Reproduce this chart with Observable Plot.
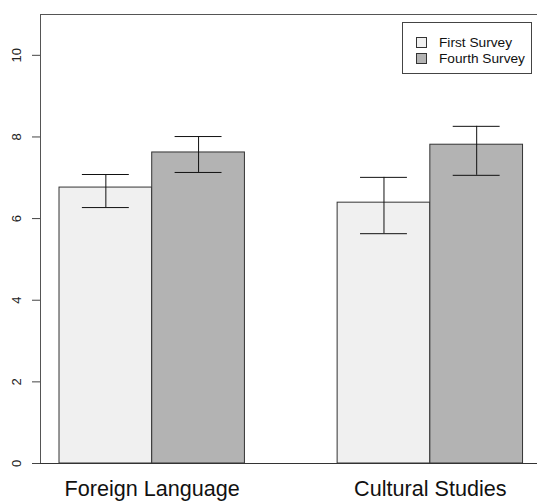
<!DOCTYPE html>
<html>
<head>
<meta charset="utf-8">
<script src="https://cdn.jsdelivr.net/npm/d3@7"></script>
<script src="https://cdn.jsdelivr.net/npm/@observablehq/plot@0.6"></script>
<style>
  html, body { margin: 0; padding: 0; background: #fff; overflow: hidden; }
  #wrap { position: relative; width: 537px; height: 501px; font-family: "Liberation Sans", Arial, sans-serif; }
  #legend { position: absolute; left: 402px; top: 22px; width: 130px; height: 52px; box-sizing: border-box;
            border: 1px solid #444; background: #fff; font-size: 13.7px; color: #111; }
  .item { position: absolute; left: 13px; height: 16px; line-height: 16px; white-space: nowrap; }
  .sw { display: inline-block; width: 9px; height: 9px; border: 1px solid #333; vertical-align: middle; margin-right: 12px; position: relative; top: -1px; }
</style>
</head>
<body>
<div id="wrap"></div>
<script>
const categories = ["Foreign Language", "Cultural Studies"];
const series = ["First Survey", "Fourth Survey"];
const colors = ["#f0f0f0", "#b3b3b3"];
const firstMean  = [6.76, 6.39];
const firstLow   = [6.27, 5.63];
const firstHigh  = [7.08, 7.01];
const fourthMean = [7.62, 7.81];
const fourthLow  = [7.13, 7.06];
const fourthHigh = [8.01, 8.26];
const yTicks = [0, 2, 4, 6, 8, 10];

const means = [firstMean, fourthMean];
const lows = [firstLow, fourthLow];
const highs = [firstHigh, fourthHigh];

const data = [];
categories.forEach((c, gi) => {
  series.forEach((s, si) => {
    const pos = gi * 3 + si + 1;
    data.push({category: c, series: s, x1: pos, x2: pos + 1, xc: pos + 0.5,
               mean: means[si][gi], low: lows[si][gi], high: highs[si][gi], fill: colors[si]});
  });
});
const labels = categories.map((c, gi) => ({category: c, x: gi * 3 + 2}));

const xDomain = [0.795, 6.156];
const yDomain = [0, 11];
const cap = 0.253;

const chart = Plot.plot({
  width: 537,
  height: 501,
  marginLeft: 40,
  marginRight: 0,
  marginTop: 14,
  marginBottom: 38,
  style: {fontFamily: "'Liberation Sans', Arial, sans-serif", background: "#fff"},
  x: {domain: xDomain, axis: null},
  y: {domain: yDomain, axis: null},
  marks: [
    Plot.rect(data, {x1: "x1", x2: "x2", y1: 0, y2: "mean", fill: "fill", stroke: "#333", strokeWidth: 1}),
    Plot.ruleX(data, {x: "xc", y1: "low", y2: "high", stroke: "#111", strokeWidth: 1}),
    Plot.ruleY(data, {y: "high", x1: d => d.xc - cap, x2: d => d.xc + cap, stroke: "#111", strokeWidth: 1}),
    Plot.ruleY(data, {y: "low", x1: d => d.xc - cap, x2: d => d.xc + cap, stroke: "#111", strokeWidth: 1}),
    Plot.ruleY([yDomain[0]], {stroke: "#333"}),
    Plot.ruleY([yDomain[1]], {stroke: "#555"}),
    Plot.ruleX([xDomain[0]], {stroke: "#555"}),
    Plot.axisY({ticks: yTicks, tickSize: 8, tickFormat: () => "", stroke: "#444"}),
    Plot.text(yTicks, {x: xDomain[0], y: d => d, text: d => String(d), dx: -24, rotate: -90,
                       textAnchor: "middle", lineAnchor: "middle", fontSize: 13, fill: "#222"}),
    Plot.text(labels, {x: "x", y: yDomain[0], text: "category", dy: 25.5, textAnchor: "middle",
                       lineAnchor: "middle", fontSize: 21.6, fill: "#111"})
  ]
});
const wrap = document.getElementById("wrap");
wrap.appendChild(chart);

const legend = document.createElement("div");
legend.id = "legend";
series.forEach((s, i) => {
  const item = document.createElement("div");
  item.className = "item";
  item.style.top = (12 + i * 16) + "px";
  const sw = document.createElement("span");
  sw.className = "sw";
  sw.style.background = colors[i];
  item.appendChild(sw);
  item.appendChild(document.createTextNode(s));
  legend.appendChild(item);
});
wrap.appendChild(legend);
</script>
</body>
</html>
